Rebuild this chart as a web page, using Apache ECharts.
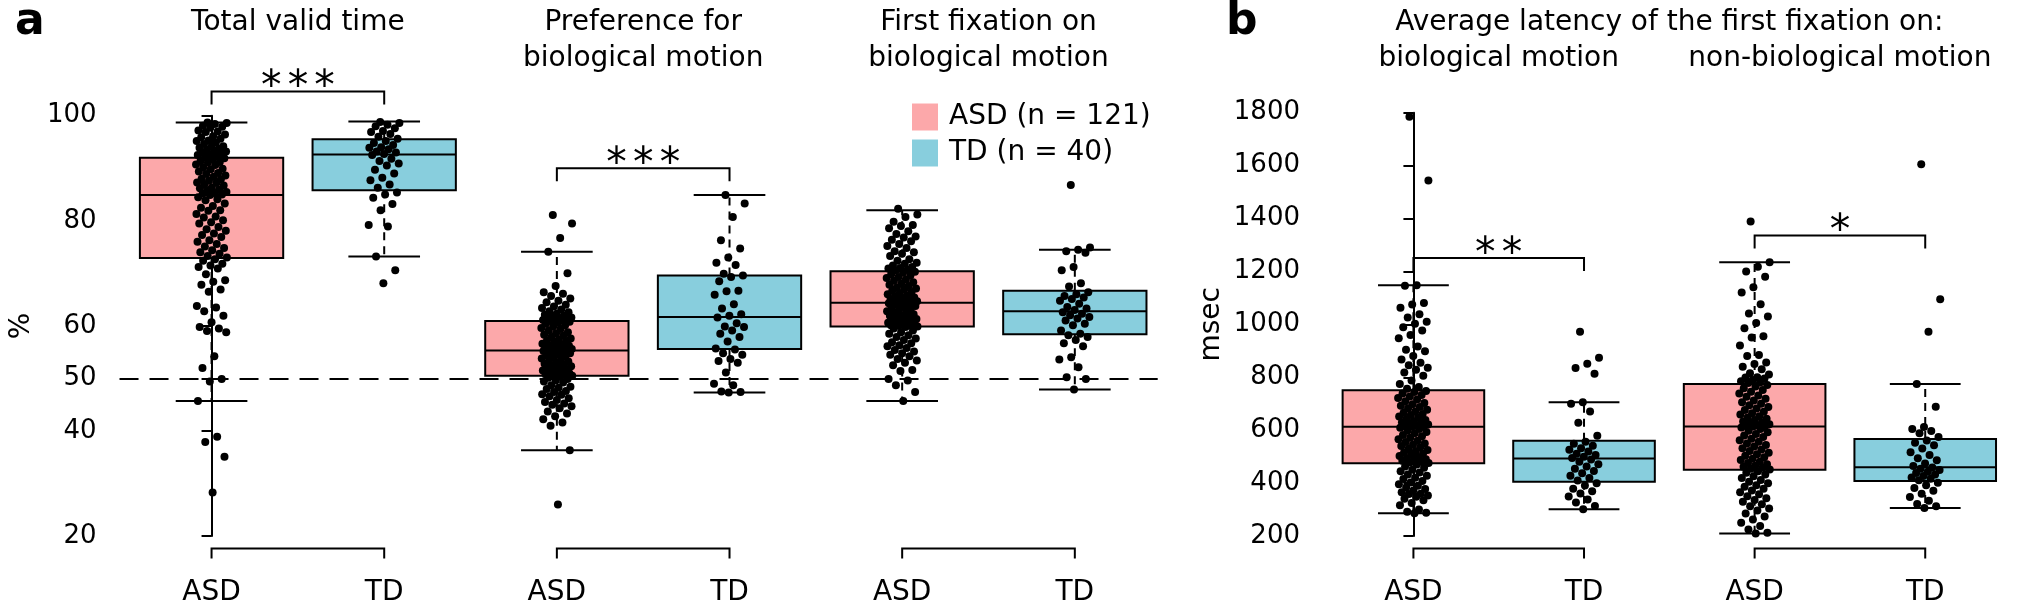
<!DOCTYPE html>
<html>
<head>
<meta charset="utf-8">
<script src="https://cdn.jsdelivr.net/npm/echarts@6/dist/echarts.min.js"></script>
<style>
html,body{margin:0;padding:0;background:#fff;}
#chart{width:2031px;height:607px;}
</style>
</head>
<body>
<div id="chart"></div>
<script>
// ---------------- data ----------------
const groupNames = ['ASD (n = 121)', 'TD (n = 40)'];
const panelALabels = ['ASD', 'TD', 'ASD', 'TD', 'ASD', 'TD'];
const panelBLabels = ['ASD', 'TD', 'ASD', 'TD'];
const panelATitles = ['Total valid time', 'Preference for\nbiological motion', 'First fixation on\nbiological motion'];
const panelBTitle = 'Average latency of the first fixation on:';
const panelBSubTitles = ['biological motion', 'non-biological motion'];
const panelATicks = [20, 40, 50, 60, 80, 100];
const panelBTicks = [200, 400, 600, 800, 1000, 1200, 1400, 1600, 1800];
const chanceLevel = 50;

// box statistics [lower whisker, Q1, median, Q3, upper whisker]
const boxTvtASD = [45.7, 72.9, 84.9, 92.0, 98.7];
const boxTvtTD = [73.2, 85.8, 92.6, 95.5, 98.9];
const boxPrefASD = [36.3, 50.5, 55.3, 60.9, 74.1];
const boxPrefTD = [47.3, 55.6, 61.7, 69.6, 84.9];
const boxFfASD = [45.7, 59.9, 64.4, 70.4, 82.0];
const boxFfTD = [47.9, 58.4, 62.8, 66.7, 74.5];
const boxBioASD = [286, 475, 613, 751, 1148];
const boxBioTD = [301, 405, 493, 560, 706];
const boxNonBioASD = [209, 450, 614, 775, 1235];
const boxNonBioTD = [306, 408, 460, 567, 775];

// individual values
const tvtASD = [98.7,98.6,98.4,98.1,97.9,97.7,97.2,97.0,96.9,96.4,96.1,95.9,95.6,95.3,95.2,94.9,94.6,94.2,94.1,93.9,93.7,93.5,93.2,93.1,92.9,92.8,92.6,92.5,92.3,92.1,
  91.9,91.7,91.4,91.2,91.1,90.7,90.6,90.2,89.9,89.8,89.4,89.1,88.9,88.6,88.4,88.0,87.9,87.6,87.3,87.2,86.9,86.7,86.3,86.2,85.9,85.7,85.5,85.3,85.2,85.0,
  84.9,
  84.5,84.1,83.9,83.3,82.8,82.5,82.0,81.9,81.3,80.8,80.6,80.1,79.7,79.5,78.8,78.4,78.1,77.6,77.3,76.9,76.3,76.0,75.6,75.1,74.8,74.4,74.0,73.7,73.3,73.0,
  72.7,72.4,71.8,71.5,71.2,70.9,69.8,68.7,68.4,67.8,66.9,66.5,63.8,63.5,62.8,61.9,60.7,59.8,59.5,59.0,58.8,54.2,52.0,49.9,49.4,45.7,38.9,37.9,35.1,28.3];
const tvtTD = [98.8,98.6,98.3,98.0,97.6,97.1,96.9,96.5,96.0,95.6,95.2,94.8,94.4,94.0,93.9,93.6,93.2,93.0,92.7,92.5,
  91.8,91.4,90.9,90.5,89.7,89.0,88.2,87.7,86.9,86.3,85.4,85.0,84.4,83.2,82.0,79.2,78.9,73.2,70.6,68.1];
const prefASD = [81.1,79.5,76.7,74.1,70.0,67.6,66.4,66.1,65.7,65.2,64.8,64.5,64.0,63.7,63.4,63.1,62.8,62.6,62.3,62.1,61.9,61.8,61.6,61.5,61.4,61.3,61.2,61.1,61.0,60.9,
  60.8,60.6,60.4,60.1,59.9,59.6,59.4,59.1,58.8,58.6,58.3,58.1,57.9,57.6,57.4,57.2,57.0,56.8,56.6,56.5,56.3,56.2,56.0,55.9,55.8,55.7,55.6,55.5,55.4,55.4,
  55.3,
  55.2,55.1,54.9,54.8,54.6,54.4,54.2,54.0,53.8,53.6,53.4,53.2,53.0,52.8,52.7,52.5,52.3,52.1,51.9,51.8,51.6,51.5,51.3,51.2,51.0,50.9,50.8,50.7,50.6,50.5,
  50.3,50.1,49.9,49.6,49.4,49.2,48.7,48.4,48.2,48.0,47.6,47.4,47.0,46.9,46.6,46.2,45.9,45.5,45.2,45.0,44.7,44.3,43.7,43.3,42.8,42.2,41.6,41.0,36.3,26.0];
const prefTD = [84.9,83.3,80.7,76.3,74.7,73.0,72.0,71.6,69.9,69.6,69.3,68.5,66.7,66.6,65.9,64.1,63.3,62.2,61.9,61.6,
  60.5,59.9,59.8,59.1,58.5,57.9,57.0,55.7,55.5,54.8,54.5,53.7,53.3,53.0,51.1,49.0,48.7,47.5,47.4,47.3];
const ffASD = [82.3,81.2,80.7,79.8,79.2,79.0,78.6,78.0,77.5,77.0,76.8,76.4,76.1,75.6,75.2,74.8,74.2,74.0,73.7,73.3,72.7,72.4,72.0,71.8,71.5,71.2,71.0,70.9,70.7,70.6,
  70.3,70.1,69.8,69.6,69.3,69.1,68.8,68.6,68.3,68.0,67.8,67.6,67.3,67.1,66.9,66.7,66.4,66.2,66.0,65.8,65.6,65.4,65.3,65.1,64.9,64.8,64.7,64.6,64.5,64.5,
  64.4,
  64.3,64.1,64.0,63.8,63.6,63.4,63.2,63.0,62.8,62.6,62.4,62.2,62.0,61.9,61.7,61.5,61.3,61.2,61.0,60.9,60.7,60.6,60.5,60.4,60.3,60.2,60.1,60.1,60.0,59.9,
  59.8,59.5,59.1,58.8,58.5,58.2,57.9,57.6,57.3,56.9,56.7,56.3,56.1,55.8,55.4,55.1,54.8,54.5,54.2,53.7,53.4,53.0,52.5,51.6,51.4,49.9,49.6,48.7,47.4,45.7];
const ffTD = [86.8,74.9,74.5,74.2,73.9,71.2,70.6,68.1,67.5,66.4,66.0,65.7,65.4,65.1,64.8,64.2,63.6,63.3,63.0,62.6,
  62.3,62.0,61.7,61.4,61.0,60.4,60.1,59.1,58.5,58.2,57.9,57.3,56.7,56.1,54.0,53.6,52.1,50.2,49.9,47.9];
const bioASD = [1785,1544,1148,1146,1081,1075,1063,1038,1026,1010,1002,989,977,960,947,916,904,898,880,867,855,845,836,828,818,806,788,775,763,757,
  748,744,739,733,727,722,716,709,703,698,692,688,683,677,671,666,661,657,652,647,642,638,634,630,627,624,621,618,616,614,
  613,
  609,604,598,593,588,582,577,571,566,560,555,550,545,540,535,530,525,520,516,511,507,502,498,494,490,487,484,481,478,476,
  470,463,458,450,445,440,432,428,420,415,408,402,396,390,383,378,372,365,360,359,353,348,341,335,325,316,300,292,288,286];
const bioTD = [972,874,851,835,813,706,700,671,628,579,556,549,541,532,526,519,511,506,500,495,
  489,481,471,463,454,446,437,428,419,410,399,391,379,369,361,349,338,327,313,301];
const nonBioASD = [1389,1235,1218,1200,1180,1140,1120,1076,1041,1030,1005,985,955,950,920,884,880,856,850,840,830,815,810,800,799,795,790,785,780,778,
  771,765,758,752,745,739,731,726,719,712,706,700,694,688,682,676,670,664,659,653,648,643,638,633,629,625,622,619,617,615,
  614,
  610,604,598,592,586,580,574,568,562,556,550,544,538,532,527,521,515,509,503,498,492,487,481,476,471,466,462,458,454,451,
  445,439,432,426,419,412,405,399,392,386,379,372,365,358,350,343,336,329,320,312,304,296,285,274,262,250,238,225,212,209];
const nonBioTD = [1605,1095,972,775,689,612,604,597,588,574,561,552,543,531,517,506,494,486,474,465,
  459,454,449,443,438,432,427,421,416,411,401,392,381,371,360,347,333,321,312,306];

// significance: [first category, second category, bracket level], number of stars
const sigA = [[0, 1, 104.6], [2, 3, 90.0]];
const sigAStars = [3, 3];
const sigB = [[0, 1, 1251], [2, 3, 1336]];
const sigBStars = [2, 1];
const pairsA = [[0, 1], [2, 3], [4, 5]];
const pairsB = [[0, 1], [2, 3]];

// ---------------- style / layout ----------------
const FONT = 'DejaVu Sans';
const PINK = '#FCA8AA';
const BLUE = '#88CEDD';
const BOX_W = 0.83;
const STAPLE = 0.5;
const JIT = 0.09;
const LEG = 13;

function jitter(i) {
  const f = (i * 0.6180339887 + 0.37) % 1;
  return (f - 0.5) * 2 * JIT;
}
function pts(vals, pos) {
  return vals.map((v, i) => [pos + jitter(i), v]);
}

function boxRender(params, api) {
  const x = api.value(0);
  const lo = api.coord([x, api.value(1)]);
  const q1 = api.coord([x, api.value(2)]);
  const md = api.coord([x, api.value(3)]);
  const q3 = api.coord([x, api.value(4)]);
  const hi = api.coord([x, api.value(5)]);
  const hw = api.size([BOX_W, 0])[0] / 2;
  const cw = hw * STAPLE;
  const cx = md[0];
  const solid = { stroke: '#000', lineWidth: 2 };
  const dashed = { stroke: '#000', lineWidth: 2, lineDash: [8, 6] };
  return {
    type: 'group',
    children: [
      { type: 'line', shape: { x1: cx, y1: q3[1], x2: cx, y2: hi[1] }, style: dashed },
      { type: 'line', shape: { x1: cx, y1: q1[1], x2: cx, y2: lo[1] }, style: dashed },
      { type: 'line', shape: { x1: cx - cw, y1: hi[1], x2: cx + cw, y2: hi[1] }, style: solid },
      { type: 'line', shape: { x1: cx - cw, y1: lo[1], x2: cx + cw, y2: lo[1] }, style: solid },
      { type: 'rect', shape: { x: cx - hw, y: q3[1], width: 2 * hw, height: q1[1] - q3[1] },
        style: { fill: api.visual('color'), stroke: '#000', lineWidth: 2 } },
      { type: 'line', shape: { x1: cx - hw, y1: md[1], x2: cx + hw, y2: md[1] }, style: solid }
    ]
  };
}

function sigRender(stars) {
  return function (params, api) {
    const p1 = api.coord([api.value(0), api.value(2)]);
    const p2 = api.coord([api.value(1), api.value(2)]);
    const y = p1[1];
    const children = [{
      type: 'polyline',
      shape: { points: [[p1[0], y + LEG], [p1[0], y], [p2[0], y], [p2[0], y + LEG]] },
      style: { stroke: '#000', lineWidth: 2, fill: null }
    }];
    const n = stars[params.dataIndex];
    const mid = (p1[0] + p2[0]) / 2;
    for (let k = 0; k < n; k++) {
      children.push({
        type: 'text',
        style: { text: '*', x: mid + (k - (n - 1) / 2) * 26.7, y: y - 3, font: '41px "' + FONT + '"',
          fill: '#000', align: 'center', verticalAlign: 'middle', textAlign: 'center', textVerticalAlign: 'middle' }
      });
    }
    return { type: 'group', children };
  };
}

function baseRender(yMin) {
  return function (params, api) {
    const p1 = api.coord([api.value(0), yMin]);
    const p2 = api.coord([api.value(1), yMin]);
    const y = p1[1] + 12.5;
    return {
      type: 'polyline',
      shape: { points: [[p1[0], y + 10], [p1[0], y], [p2[0], y], [p2[0], y + 10]] },
      style: { stroke: '#000', lineWidth: 2, fill: null }
    };
  };
}

const axisText = { color: '#000', fontFamily: FONT };

const option = {
  animation: false,
  backgroundColor: '#fff',
  textStyle: { fontFamily: FONT, color: '#000' },
  legend: {
    data: groupNames,
    orient: 'vertical',
    left: 907, top: 98,
    itemWidth: 26, itemHeight: 27, itemGap: 8,
    icon: 'rect',
    selectedMode: false,
    textStyle: { fontSize: 28, fontFamily: FONT, color: '#000', padding: [0, 0, 0, 6] }
  },
  grid: [
    { left: 88, top: 115.7, width: 1069.7, height: 432.6 },
    { left: 1323, top: 112.7, width: 743, height: 435.6 }
  ],
  xAxis: [
    { gridIndex: 0, type: 'value', min: -0.533, max: 5.48,
      axisLine: { show: false }, axisTick: { show: false }, splitLine: { show: false },
      axisLabel: Object.assign({ customValues: [0, 1, 2, 3, 4, 5], fontSize: 28, margin: 43,
        formatter: v => panelALabels[Math.round(v)] || '' }, axisText) },
    { gridIndex: 1, type: 'value', min: -0.53, max: 3.62,
      axisLine: { show: false }, axisTick: { show: false }, splitLine: { show: false },
      axisLabel: Object.assign({ customValues: [0, 1, 2, 3], fontSize: 28, margin: 43,
        formatter: v => panelBLabels[Math.round(v)] || '' }, axisText) }
  ],
  yAxis: [
    { gridIndex: 0, type: 'value', min: 20, max: 100,
      name: '%', nameLocation: 'middle', nameGap: 70,
      nameTextStyle: { fontSize: 28, fontFamily: FONT, color: '#000' },
      axisLine: { show: true, lineStyle: { color: '#000', width: 2 } },
      axisTick: { show: true, length: 10, customValues: panelATicks, lineStyle: { color: '#000', width: 2 } },
      axisLabel: Object.assign({ customValues: panelATicks, fontSize: 26, margin: 23, formatter: v => String(v) }, axisText),
      splitLine: { show: false } },
    { gridIndex: 1, type: 'value', min: 200, max: 1800, interval: 200,
      name: 'msec', nameLocation: 'middle', nameGap: 97,
      nameTextStyle: { fontSize: 28, fontFamily: FONT, color: '#000' },
      axisLine: { show: true, lineStyle: { color: '#000', width: 2 } },
      axisTick: { show: true, length: 10, customValues: panelBTicks, lineStyle: { color: '#000', width: 2 } },
      axisLabel: Object.assign({ customValues: panelBTicks, fontSize: 26, margin: 23, formatter: v => String(v) }, axisText),
      splitLine: { show: false } }
  ],
  series: [
    { name: groupNames[0], type: 'custom', xAxisIndex: 0, yAxisIndex: 0, itemStyle: { color: PINK },
      renderItem: boxRender, data: [[0, ...boxTvtASD], [2, ...boxPrefASD], [4, ...boxFfASD]], z: 2 },
    { name: groupNames[1], type: 'custom', xAxisIndex: 0, yAxisIndex: 0, itemStyle: { color: BLUE },
      renderItem: boxRender, data: [[1, ...boxTvtTD], [3, ...boxPrefTD], [5, ...boxFfTD]], z: 2 },
    { name: groupNames[0], type: 'custom', xAxisIndex: 1, yAxisIndex: 1, itemStyle: { color: PINK },
      renderItem: boxRender, data: [[0, ...boxBioASD], [2, ...boxNonBioASD]], z: 2 },
    { name: groupNames[1], type: 'custom', xAxisIndex: 1, yAxisIndex: 1, itemStyle: { color: BLUE },
      renderItem: boxRender, data: [[1, ...boxBioTD], [3, ...boxNonBioTD]], z: 2 },
    { name: 'pointsA', type: 'scatter', xAxisIndex: 0, yAxisIndex: 0, symbolSize: 8, z: 3,
      itemStyle: { color: '#000', opacity: 1 },
      data: [].concat(pts(tvtASD, 0), pts(tvtTD, 1), pts(prefASD, 2), pts(prefTD, 3), pts(ffASD, 4), pts(ffTD, 5)),
      markLine: { silent: true, symbol: 'none', z: 1, label: { show: false },
        lineStyle: { color: '#000', width: 2, type: [19, 11], opacity: 1 }, data: [{ yAxis: chanceLevel }] } },
    { name: 'pointsB', type: 'scatter', xAxisIndex: 1, yAxisIndex: 1, symbolSize: 8, z: 3,
      itemStyle: { color: '#000', opacity: 1 },
      data: [].concat(pts(bioASD, 0), pts(bioTD, 1), pts(nonBioASD, 2), pts(nonBioTD, 3)) },
    { name: 'sigA', type: 'custom', xAxisIndex: 0, yAxisIndex: 0, renderItem: sigRender(sigAStars), data: sigA, z: 4 },
    { name: 'sigB', type: 'custom', xAxisIndex: 1, yAxisIndex: 1, renderItem: sigRender(sigBStars), data: sigB, z: 4 },
    { name: 'baseA', type: 'custom', xAxisIndex: 0, yAxisIndex: 0, renderItem: baseRender(20), data: pairsA, z: 4 },
    { name: 'baseB', type: 'custom', xAxisIndex: 1, yAxisIndex: 1, renderItem: baseRender(200), data: pairsB, z: 4 }
  ]
};

const chart = echarts.init(document.getElementById('chart'), null, { renderer: 'canvas' });
chart.setOption(option);

// titles positioned over the category pairs
const pxA = v => chart.convertToPixel({ xAxisIndex: 0 }, v);
const pxB = v => chart.convertToPixel({ xAxisIndex: 1 }, v);
const titleFont = '28px "' + FONT + '"';
const graphics = [];
function addText(text, x, y, font, align) {
  graphics.push({ type: 'text', x: x, y: y, silent: true,
    style: { text: text, font: font, fill: '#000', align: align || 'center', verticalAlign: 'middle',
      textAlign: align || 'center', textVerticalAlign: 'middle' } });
}
panelATitles.forEach((t, i) => {
  const cx = pxA(2 * i + 0.5);
  const lines = t.split('\n');
  lines.forEach((ln, k) => addText(ln, cx, 22.5 + k * 36, titleFont));
});
addText(panelBTitle, pxB(1.5), 22.5, titleFont);
addText(panelBSubTitles[0], pxB(0.5), 58.5, titleFont);
addText(panelBSubTitles[1], pxB(2.5), 58.5, titleFont);
addText('a', 15, 23, 'bold 44px "' + FONT + '"', 'left');
addText('b', 1226, 23, 'bold 44px "' + FONT + '"', 'left');
chart.setOption({ graphic: graphics });
</script>
</body>
</html>
